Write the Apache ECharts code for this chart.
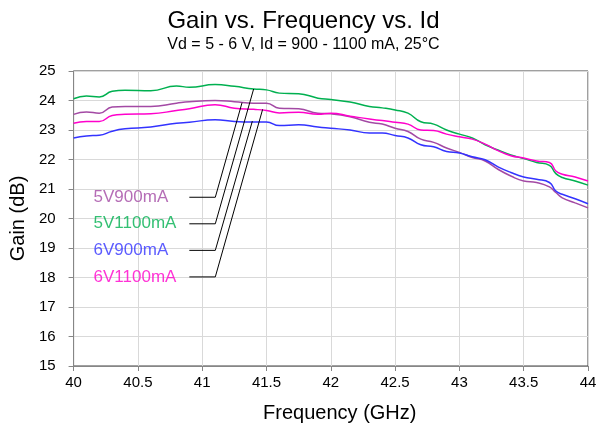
<!DOCTYPE html>
<html>
<head>
<meta charset="utf-8">
<script src="https://cdn.jsdelivr.net/npm/echarts@6/dist/echarts.min.js"></script>
<style>html,body{margin:0;padding:0;background:#fff}#c{width:607px;height:432px}</style>
</head>
<body>
<div id="c"></div>
<script>
const freq = [40.0,40.1,40.2,40.3,40.4,40.6,40.8,40.9,41.1,41.25,41.4,41.5,41.6,41.75,41.9,42.0,42.15,42.3,42.4,42.5,42.6,42.7,42.8,42.9,43.0,43.1,43.2,43.3,43.4,43.5,43.6,43.7,43.75,43.8,43.9,44.0];
const gain5V900 = [23.53,23.61,23.57,23.78,23.80,23.80,23.91,23.96,24.00,23.96,23.91,23.91,23.74,23.72,23.57,23.55,23.45,23.26,23.20,23.06,22.95,22.69,22.58,22.39,22.24,22.07,21.95,21.67,21.44,21.27,21.22,21.07,20.88,20.70,20.53,20.36];
const gain5V1100 = [24.06,24.15,24.12,24.31,24.35,24.33,24.49,24.45,24.54,24.48,24.39,24.36,24.25,24.23,24.08,24.03,23.95,23.80,23.75,23.68,23.57,23.28,23.20,23.00,22.86,22.73,22.50,22.32,22.15,22.03,21.90,21.80,21.52,21.39,21.27,21.13];
const gain6V900 = [22.73,22.80,22.82,22.96,23.04,23.10,23.23,23.26,23.35,23.29,23.27,23.27,23.15,23.18,23.10,23.06,23.00,22.90,22.90,22.81,22.73,22.50,22.43,22.27,22.22,22.09,21.99,21.75,21.56,21.41,21.33,21.22,20.93,20.82,20.67,20.50];
const gain6V1100 = [23.23,23.29,23.29,23.49,23.53,23.55,23.66,23.72,23.86,23.74,23.70,23.66,23.58,23.60,23.53,23.57,23.47,23.37,23.32,23.26,23.20,23.00,22.98,22.86,22.77,22.69,22.52,22.30,22.13,22.05,21.95,21.90,21.61,21.50,21.41,21.27];

const seriesNames = ['5V900mA','5V1100mA','6V900mA','6V1100mA'];
const seriesData = [gain5V900, gain5V1100, gain6V900, gain6V1100];
const colors = ['#A349A4','#00B050','#3333FF','#FF00CC'];

// callout annotations (data coordinates)
const labelX = 40.155;
const leaderStartX = 40.9;
const leaderKneeX = 41.102;
const leaderY = [20.72, 19.82, 18.92, 18.02];
const leaderEnd = [[41.31, 23.93],[41.40, 24.39],[41.39, 23.30],[41.47, 23.70]];

const xTicks = {min: 40, max: 44, interval: 0.5};
const yTicks = {min: 15, max: 25, interval: 1};

const font = '"Liberation Sans", Arial, sans-serif';

const series = [];
seriesNames.forEach((n, i) => {
  series.push({
    name: n, type: 'line', smooth: true, symbol: 'none',
    data: freq.map((f, k) => [f, seriesData[i][k]]),
    lineStyle: {color: colors[i], width: 1.5},
    itemStyle: {color: colors[i]},
    z: 3
  });
});
seriesNames.forEach((n, i) => {
  series.push({
    type: 'line', symbol: 'none', silent: true, smooth: false,
    data: [[leaderStartX, leaderY[i]], [leaderKneeX, leaderY[i]], leaderEnd[i]],
    lineStyle: {color: '#000', width: 1},
    z: 4
  });
  series.push({
    type: 'scatter', silent: true, symbolSize: 0.1,
    itemStyle: {color: 'rgba(0,0,0,0)'},
    data: [[labelX, leaderY[i]]],
    label: {show: true, position: 'right', distance: 0, formatter: n,
      color: colors[i], fontSize: 17, fontFamily: font},
    z: 5
  });
});

const chart = echarts.init(document.getElementById('c'), null, {renderer: 'canvas'});
chart.setOption({
  animation: false,
  backgroundColor: '#fff',
  title: [
    {text: 'Gain vs. Frequency vs. Id', left: 'center', top: 3,
     textStyle: {fontFamily: font, fontSize: 24, fontWeight: 'normal', color: '#000', lineHeight: 26}},
    {text: 'Vd = 5 - 6 V, Id = 900 - 1100 mA, 25°C', left: 'center', top: 31,
     textStyle: {fontFamily: font, fontSize: 16, fontWeight: 'normal', color: '#000', lineHeight: 18}}
  ],
  grid: {left: 73, right: 19, top: 71, bottom: 66, show: true, borderColor: '#404040', borderWidth: 1},
  xAxis: {
    type: 'value', min: xTicks.min, max: xTicks.max, interval: xTicks.interval,
    name: 'Frequency (GHz)', nameLocation: 'middle', nameGap: 37,
    nameTextStyle: {fontFamily: font, fontSize: 20, color: '#000', padding: [0,0,0,18]},
    axisLine: {show: true, lineStyle: {color: '#868686', width: 1}},
    axisTick: {show: true, length: 5, lineStyle: {color: '#868686'}},
    axisLabel: {fontFamily: font, fontSize: 15, color: '#000', margin: 9},
    splitLine: {show: true, lineStyle: {color: '#D9D9D9', width: 1}}
  },
  yAxis: {
    type: 'value', min: yTicks.min, max: yTicks.max, interval: yTicks.interval,
    name: 'Gain (dB)', nameLocation: 'middle', nameGap: 41, nameRotate: 90,
    nameTextStyle: {fontFamily: font, fontSize: 20, color: '#000'},
    axisLine: {show: true, lineStyle: {color: '#868686', width: 1}},
    axisTick: {show: true, length: 5, lineStyle: {color: '#868686'}},
    axisLabel: {fontFamily: font, fontSize: 15, color: '#000', margin: 18},
    splitLine: {show: true, lineStyle: {color: '#D9D9D9', width: 1}}
  },
  series: series
});
</script>
</body>
</html>
